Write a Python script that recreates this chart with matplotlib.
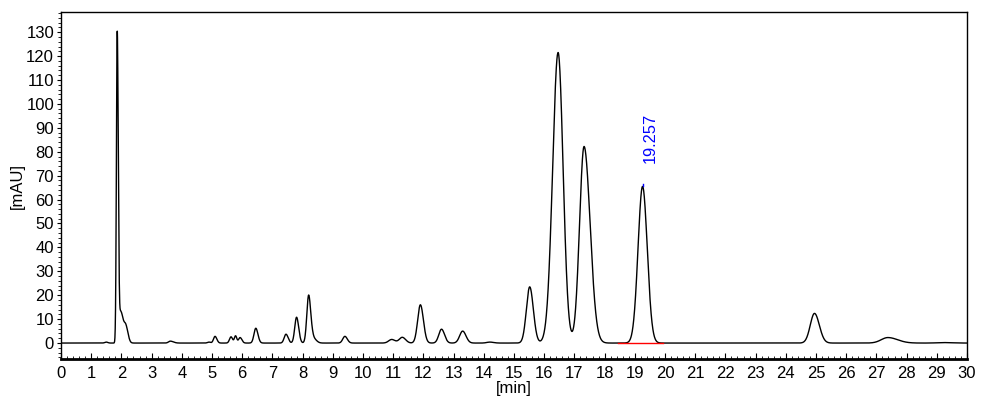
import matplotlib
matplotlib.use("Agg")
import matplotlib.pyplot as plt
import numpy as np
from matplotlib.ticker import MultipleLocator

# peak table: retention time [min], height [mAU],
# left / right half-widths (sigma, min)
peak_times = [1.50, 1.862, 1.98, 2.15, 3.62, 4.90, 5.10, 5.63, 5.78, 5.93,
              6.45, 7.45, 7.80, 8.20, 8.35, 9.40, 10.95, 11.30, 11.90, 12.60,
              13.30, 14.20, 15.52, 16.46, 17.32, 19.257, 24.95, 27.38, 29.2]
peak_heights = [0.4, 130.0, 13.0, 6.5, 0.8, 0.4, 2.8, 2.6, 3.0, 2.3,
                6.2, 3.7, 10.8, 20.0, 2.0, 2.8, 1.5, 2.4, 16.0, 5.8,
                5.0, 0.4, 23.5, 121.5, 82.2, 65.5, 12.4, 2.3, 0.2]
sigma_left = [0.05, 0.027, 0.05, 0.06, 0.06, 0.05, 0.05, 0.05, 0.04, 0.05,
              0.06, 0.06, 0.06, 0.06, 0.06, 0.07, 0.10, 0.10, 0.09, 0.09,
              0.10, 0.10, 0.11, 0.18, 0.15, 0.150, 0.14, 0.22, 0.2]
sigma_right = [0.05, 0.034, 0.08, 0.07, 0.10, 0.05, 0.06, 0.05, 0.04, 0.06,
               0.07, 0.07, 0.07, 0.07, 0.10, 0.08, 0.11, 0.11, 0.10, 0.10,
               0.11, 0.12, 0.12, 0.165, 0.20, 0.155, 0.16, 0.32, 0.3]

marked_time = 19.257
marked_height = 65.5
marked_base = (18.45, 19.95)

t = np.linspace(0, 30, 6001)
signal = np.zeros_like(t)
for rt, h, sl, sr in zip(peak_times, peak_heights, sigma_left, sigma_right):
    s = np.where(t < rt, sl, sr)
    signal += h * np.exp(-0.5 * ((t - rt) / s) ** 2)

plt.rcParams['font.family'] = ['Liberation Sans', 'DejaVu Sans']

fig = plt.figure(figsize=(10, 4.03), dpi=100)
ax = fig.add_axes([0.061, 0.109, 0.906, 0.861])
ax.plot(t, signal, color='black', lw=1.0)

# integration baseline and peak marker
ax.plot(marked_base, [0, 0], color='red', lw=1.0)
ax.plot([marked_time, marked_time], [marked_height, marked_height + 1.2],
        color='blue', lw=1.0)
ax.text(marked_time + 0.27, marked_height + 9.7, "%.3f" % marked_time,
        rotation=90, color='blue', fontsize=11.8, ha='center', va='bottom')

ax.set_xlim(0, 30)
ax.set_ylim(-6.7, 138.4)
ax.xaxis.set_major_locator(MultipleLocator(1))
ax.xaxis.set_minor_locator(MultipleLocator(0.2))
ax.yaxis.set_major_locator(MultipleLocator(10))
ax.yaxis.set_minor_locator(MultipleLocator(2))
ax.tick_params(axis='x', which='major', direction='in', length=4, labelsize=12, pad=5)
ax.tick_params(axis='x', which='minor', direction='in', length=2)
ax.tick_params(axis='y', which='major', direction='out', length=3, labelsize=12, pad=2)
ax.tick_params(axis='y', which='minor', direction='out', length=2)
ax.tick_params(top=False, right=False)
for side in ['top', 'right', 'left']:
    ax.spines[side].set_linewidth(1.0)
ax.spines['bottom'].set_linewidth(2.0)

ax.set_xlabel('[min]', fontsize=12, labelpad=0)
ax.set_ylabel('[mAU]', fontsize=12, labelpad=1)

fig.savefig('out.png', dpi=100)
